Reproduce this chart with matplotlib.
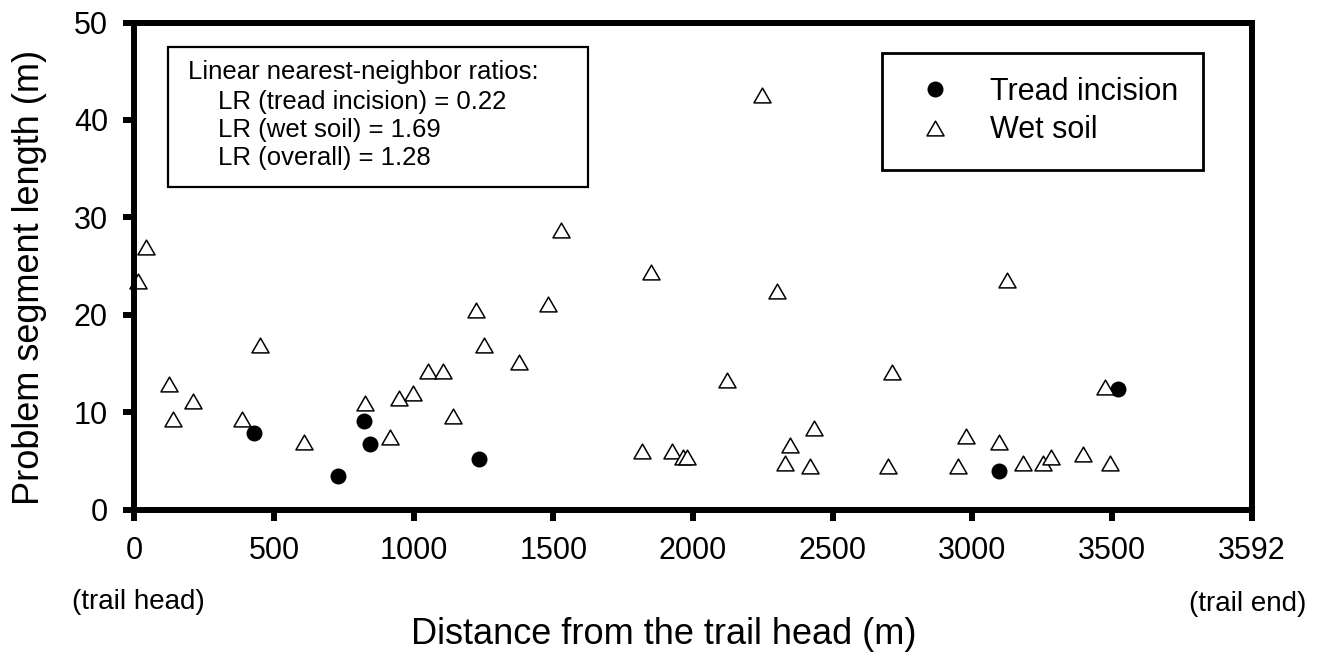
#!/usr/bin/env python3
"""Problem segment length vs distance along the trail (tread incision / wet soil)."""

import matplotlib
matplotlib.use("Agg")
import matplotlib.pyplot as plt
from matplotlib.patches import Rectangle
from matplotlib.path import Path

plt.rcParams["font.family"] = ["Liberation Sans", "DejaVu Sans"]

# data
incision_x = [427, 728, 823, 844, 1233, 3096, 3522]
incision_y = [7.9, 3.4, 9.1, 6.7, 5.2, 4.0, 12.4]
wet_x = [12, 42, 123, 140, 210, 385, 449, 609, 825, 916, 949, 999, 1050, 1106, 1142,
         1223, 1253, 1376, 1480, 1527, 1819, 1850, 1924, 1963, 1978, 2123, 2247, 2300,
         2331, 2348, 2419, 2432, 2699, 2714, 2950, 2978, 3097, 3124, 3181, 3255, 3281,
         3398, 3476, 3493]
wet_y = [23.5, 26.9, 12.9, 9.3, 11.1, 9.3, 16.9, 6.9, 10.9, 7.4, 11.4, 12.0, 14.2, 14.2, 9.6,
         20.5, 16.9, 15.1, 21.1, 28.7, 6.0, 24.4, 6.0, 5.4, 5.4, 13.3, 42.6, 22.4,
         4.8, 6.6, 4.5, 8.4, 4.5, 14.1, 4.5, 7.5, 6.9, 23.6, 4.8, 4.8, 5.4,
         5.7, 12.6, 4.8]
x_ticks = [0, 500, 1000, 1500, 2000, 2500, 3000, 3500, 4000]
x_tick_labels = ["0", "500", "1000", "1500", "2000", "2500", "3000", "3500", "3592"]
y_ticks = [0, 10, 20, 30, 40, 50]
lr_names = ["tread incision", "wet soil", "overall"]
lr_values = [0.22, 1.69, 1.28]

W, H = 1326, 654
fx = lambda p: p / W
fy = lambda p: 1 - p / H

fig = plt.figure(figsize=(W / 100, H / 100), dpi=100)
ax = fig.add_axes([fx(134.3), fy(509.5), (1251.5 - 134.3) / W, (509.5 - 22.5) / H])

# equilateral triangle, centred on its bounding box
tri = Path([(0, 0.433), (-0.5, -0.433), (0.5, -0.433), (0, 0.433)], closed=True)
ax.plot(incision_x, incision_y, linestyle="none", marker="o", ms=11.5, mew=0, color="black",
        label="Tread incision", clip_on=False)
ax.plot(wet_x, wet_y, linestyle="none", marker=tri, ms=12.3, mew=1.1, mfc="white", mec="black",
        label="Wet soil", clip_on=False)

ax.set_xlim(0, 4000)
ax.set_ylim(0, 50)
ax.set_xticks(x_ticks)
ax.set_xticklabels(x_tick_labels)
ax.set_yticks(y_ticks)
ax.tick_params(axis="both", direction="out", length=8, width=4.3, labelsize=22, pad=11)
for s in ax.spines.values():
    s.set_linewidth(4.3)

leg = ax.legend(loc="upper left", bbox_to_anchor=(fx(881.7), fy(52.7)), bbox_transform=fig.transFigure,
                borderaxespad=0, fontsize=22, handlelength=1.9, handletextpad=0.85, borderpad=0.8,
                labelspacing=0.27, fancybox=False, edgecolor="black", framealpha=1)
leg.get_frame().set_linewidth(2)

# annotation box with the nearest-neighbor ratios
fig.patches.append(Rectangle((fx(168), fy(186.7)), (588 - 168) / W, (186.7 - 46.5) / H,
                             transform=fig.transFigure, fill=False, edgecolor="black", linewidth=1.6))
fig.text(fx(188), fy(71.7), "Linear nearest-neighbor ratios:", fontsize=18.5, va="center")
for i, (name, val) in enumerate(zip(lr_names, lr_values)):
    fig.text(fx(217.7), fy(101.7 + 28.3 * i), f"LR ({name}) = {val:.2f}", fontsize=18.5, va="center")

fig.text(fx(138.5), fy(602), "(trail head)", fontsize=20, ha="center", va="center")
fig.text(fx(1248), fy(604), "(trail end)", fontsize=20, ha="center", va="center")
fig.text(fx(664), fy(634), "Distance from the trail head (m)", fontsize=26, ha="center", va="center")
fig.text(fx(30), fy(277), "Problem segment length (m)", fontsize=26, ha="center", va="center", rotation=90)

fig.savefig("out.png", dpi=100)
